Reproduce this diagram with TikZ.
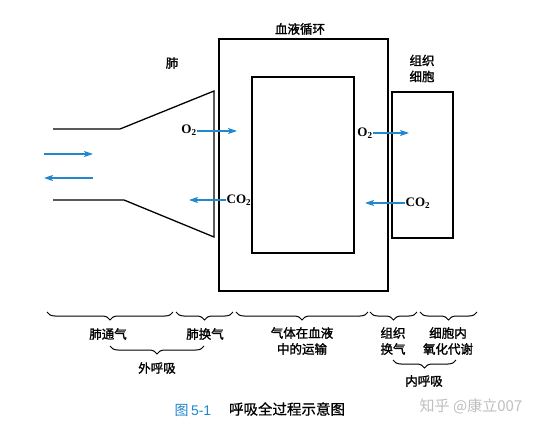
\documentclass[tikz,border=0pt]{standalone}
\usepackage{fontspec}
\setmainfont{Liberation Serif}
\newfontfamily\cjk[FakeBold=1.6]{Noto Sans CJK SC}
\newfontfamily\cjkthin{Noto Sans CJK SC}
\newfontfamily\cjkmid[FakeBold=0.6]{Noto Sans CJK SC}
\newfontfamily\capsans{Liberation Sans}
\usetikzlibrary{arrows.meta,decorations.pathreplacing}
\definecolor{flowblue}{RGB}{35,135,205}
\begin{document}
\begin{tikzpicture}[x=1pt,y=-1pt,
 line/.style={draw=black, line width=1.3pt},
 box/.style={draw=black, line width=1.3pt, inner sep=0pt, fill=none},
 gas/.style={draw=flowblue, line width=1.1pt, -{Stealth[length=9pt,width=6pt,inset=2pt]}},
 lbl/.style={font=\cjk\fontsize{12.5}{16}\selectfont, inner sep=0pt, align=center},
 chem/.style={font=\bfseries\fontsize{13}{15}\selectfont, inner sep=0pt},
 brc/.style={draw=black, line width=1pt, decorate, decoration={brace, mirror, amplitude=8pt}},
]
\useasboundingbox (0,0) rectangle (542,428);
\fill[white] (0,0) rectangle (542,428);

% lung
\coordinate (tA) at (53,129);
\coordinate (tB) at (120,129);
\coordinate (tC) at (214,91);
\coordinate (tD) at (214,237);
\coordinate (tE) at (124,200);
\coordinate (tF) at (53,200);
\draw[line, line join=miter] (tA) -- (tB) -- (tC) -- (tD) -- (tE) -- (tF);
\node[lbl] (lung) at (172,63) {肺};

% ventilation arrows
\coordinate (vin1) at (44,154);
\coordinate (vin2) at (93,154);
\coordinate (vout1) at (93,178);
\coordinate (vout2) at (44,178);
\draw[gas] (vin1) -- (vin2);
\draw[gas] (vout1) -- (vout2);

% boxes
\node[box, minimum width=169pt, minimum height=252pt] (outer) at (303.5,165) {};
\node[box, minimum width=102pt, minimum height=176pt] (inner) at (303,165) {};
\node[box, minimum width=61pt, minimum height=146pt] (tissue) at (422.5,165) {};
\node[lbl] (blood) at (300,29) {血液循环};
\node[lbl] (cell) at (422,68.5) {组织\\细胞};

% gas exchange arrows
\node[chem] (o2a) at (189,130) {O\textsubscript{2}};
\coordinate (o2aend) at (237,131);
\draw[gas] (o2a.east |- o2aend) -- (o2aend);
\node[chem] (co2a) at (239,200) {CO\textsubscript{2}};
\coordinate (co2aend) at (189,200);
\draw[gas] (co2a.west |- co2aend) ++(-1,0) -- (co2aend);
\node[chem] (o2b) at (365,133) {O\textsubscript{2}};
\coordinate (o2bend) at (409,133);
\draw[gas] (o2b.east |- o2bend) -- (o2bend);
\node[chem] (co2b) at (418,203) {CO\textsubscript{2}};
\coordinate (co2bend) at (365,203);
\draw[gas] (co2b.west |- co2bend) ++(-1,0) -- (co2bend);

% first-level braces
\draw[brc] (47,312) -- (173,312);
\draw[brc] (176,312) -- (233,312);
\draw[brc] (236,312) -- (368,312);
\draw[brc] (370,312) -- (417,312);
\draw[brc] (420,312) -- (477,312);
\node[lbl] (s1) at (108,334) {肺通气};
\node[lbl] (s2) at (205,334) {肺换气};
\node[lbl] (s3) at (302,341) {气体在血液\\中的运输};
\node[lbl] (s4) at (393,341) {组织\\换气};
\node[lbl] (s5) at (448,341) {细胞内\\氧化代谢};

% second-level braces
\draw[brc] (110,346) -- (204,346);
\node[lbl] (ext) at (157,368) {外呼吸};
\draw[brc] (393,360) -- (456,360);
\node[lbl] (int) at (424,381) {内呼吸};

% caption
\node[inner sep=0pt, text=flowblue, font=\fontsize{14}{16}\selectfont] (fig) at (193,410) {{\cjkthin 图}\,{\capsans 5-1}};
\node[inner sep=0pt, font=\cjkmid\fontsize{14.5}{16}\selectfont] (title) at (287,409) {呼吸全过程示意图};
\node[inner sep=0pt, text=black!25, font=\cjkthin\fontsize{15}{17}\selectfont] (wm) at (471,406) {知乎 @康立007};
\end{tikzpicture}
\end{document}
